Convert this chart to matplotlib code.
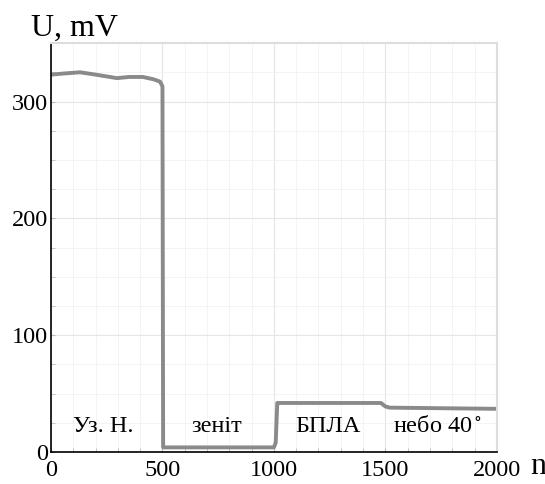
import numpy as np
import matplotlib.pyplot as plt
from matplotlib.ticker import MultipleLocator

# signal trace
n_vals = [0, 60, 130, 200, 296, 350, 412, 460, 489, 500, 503, 1000, 1008, 1015, 1480, 1500, 1520, 2000]
u_vals = [323, 324, 325, 323, 320, 321, 321, 319, 317, 313, 4, 4, 8, 42, 42, 39, 38, 37]

x_ticks = [0, 500, 1000, 1500, 2000]
y_ticks = [0, 100, 200, 300]

labels = ["Уз. Н.", "зеніт", "БПЛА", "небо 40$^\\circ$"]
label_x = [233, 745, 1242, 1735]
label_y = 22

plt.rcParams['font.family'] = ['Liberation Serif', 'DejaVu Serif']
plt.rcParams['mathtext.fontset'] = 'stix'

fig = plt.figure(figsize=(5.45, 4.84), dpi=100)
ax = fig.add_axes([0.0936, 0.066, 0.818, 0.845])

ax.plot(n_vals, u_vals, color='#8a8a8a', lw=2.8, solid_joinstyle='round')

ax.set_xlim(0, 2000)
ax.set_ylim(0, 350)
ax.set_xticks(x_ticks)
ax.set_yticks(y_ticks)
ax.xaxis.set_minor_locator(MultipleLocator(100))
ax.yaxis.set_minor_locator(MultipleLocator(25))
ax.grid(which='major', color='#e6e6e6', lw=0.8)
ax.grid(which='minor', color='#f2f2f2', lw=0.6)
ax.tick_params(which='both', direction='in', length=3, color='#bbbbbb', labelsize=17.5)
ax.tick_params(axis='x', pad=6)
ax.tick_params(axis='y', pad=2)

ax.spines['left'].set_color('black')
ax.spines['bottom'].set_color('black')
ax.spines['left'].set_linewidth(1.2)
ax.spines['bottom'].set_linewidth(1.2)
ax.spines['top'].set_color('#dddddd')
ax.spines['right'].set_color('#dddddd')
ax.spines['top'].set_linewidth(1.5)
ax.spines['right'].set_linewidth(1.5)

for t, x in zip(labels, label_x):
    ax.text(x, label_y, t, ha='center', va='center', fontsize=17.5)

fig.text(31 / 545, 1 - 28 / 484, "U, mV", fontsize=23, ha='left', va='center')
fig.text(538 / 545, 1 - 466 / 484, "n", fontsize=23, ha='center', va='center')

fig.savefig('out.png', dpi=100)
